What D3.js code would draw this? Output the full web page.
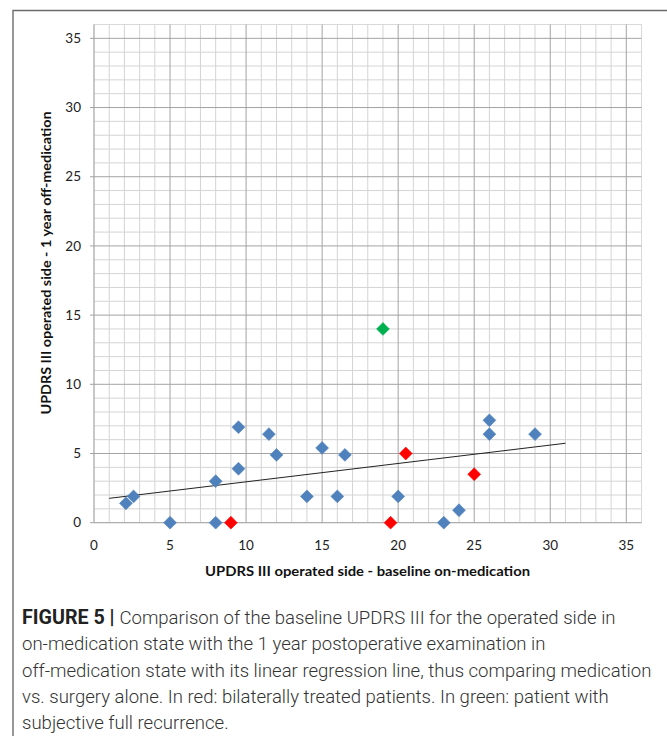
<!DOCTYPE html>
<html>
<head>
<meta charset="utf-8">
<script src="https://cdn.jsdelivr.net/npm/d3@7.9.0/dist/d3.min.js"></script>
<style>
  body { margin: 0; background: #fff; }
  svg { display: block; }
</style>
</head>
<body>
<svg id="chart" width="667" height="736"></svg>
<script>
// values
const blueX = [2.1, 2.6, 5, 8, 8, 9.5, 9.5, 11.5, 12, 14, 15, 16, 16.5, 20, 23, 24, 26, 26, 29];
const blueY = [1.4, 1.9, 0, 3, 0, 6.9, 3.9, 6.4, 4.9, 1.9, 5.4, 1.9, 4.9, 1.9, 0, 0.9, 7.4, 6.4, 6.4];
const redX = [9, 19.5, 20.5, 25];
const redY = [0, 0, 5, 3.5];
const greenX = [19];
const greenY = [14];
const trendX = [1, 31];
const trendY = [1.76, 5.74];
const tickValues = [0, 5, 10, 15, 20, 25, 30, 35];
const captionLines = [
  "Comparison of the baseline UPDRS III for the operated side in",
  "on-medication state with the 1 year postoperative examination in",
  "off-medication state with its linear regression line, thus comparing medication",
  "vs. surgery alone. In red: bilaterally treated patients. In green: patient with",
  "subjective full recurrence."
];

const svg = d3.select('#chart');

// outer figure frame (top + left)
svg.append('path')
  .attr('d', 'M13,736 V10.5 H667')
  .attr('fill', 'none')
  .attr('stroke', '#6b6b6b')
  .attr('stroke-width', 1.4);

const plot = { left: 94, top: 24.5, right: 641.5, bottom: 522.7 };
const x = d3.scaleLinear().domain([0, 36]).range([plot.left, plot.right]);
const y = d3.scaleLinear().domain([0, 36]).range([plot.bottom, plot.top]);

const g = svg.append('g');

// minor grid
const minor = d3.range(1, 36).filter(v => v % 5 !== 0);
g.selectAll('.vminor').data(minor).join('line')
  .attr('x1', d => x(d)).attr('x2', d => x(d))
  .attr('y1', plot.top).attr('y2', plot.bottom)
  .attr('stroke', '#d4d4d4').attr('stroke-width', 1);
g.selectAll('.hminor').data(minor).join('line')
  .attr('y1', d => y(d)).attr('y2', d => y(d))
  .attr('x1', plot.left).attr('x2', plot.right)
  .attr('stroke', '#d4d4d4').attr('stroke-width', 1);

// plot border
g.append('rect')
  .attr('x', plot.left).attr('y', plot.top)
  .attr('width', plot.right - plot.left).attr('height', plot.bottom - plot.top)
  .attr('fill', 'none').attr('stroke', '#d9d9d9');

// major grid
const major = tickValues.filter(v => v > 0);
g.selectAll('.vmajor').data(major).join('line')
  .attr('x1', d => x(d)).attr('x2', d => x(d))
  .attr('y1', plot.top).attr('y2', plot.bottom)
  .attr('stroke', '#a3a3a3').attr('stroke-width', 1);
g.selectAll('.hmajor').data(major).join('line')
  .attr('y1', d => y(d)).attr('y2', d => y(d))
  .attr('x1', plot.left - 4).attr('x2', plot.right)
  .attr('stroke', '#a3a3a3').attr('stroke-width', 1);

// axes lines
g.append('line')
  .attr('x1', plot.left).attr('x2', plot.left)
  .attr('y1', plot.top).attr('y2', plot.bottom)
  .attr('stroke', '#a3a3a3');
g.append('line')
  .attr('x1', plot.left - 4).attr('x2', plot.right)
  .attr('y1', plot.bottom).attr('y2', plot.bottom)
  .attr('stroke', '#a3a3a3');

// tick labels
g.selectAll('.xt').data(tickValues).join('text')
  .attr('x', d => x(d)).attr('y', 550)
  .attr('text-anchor', 'middle')
  .attr('font-family', 'Lato, "Open Sans", sans-serif')
  .attr('font-size', 13.5).attr('fill', '#222')
  .text(d => d);
g.selectAll('.yt').data(tickValues).join('text')
  .attr('x', 81).attr('y', d => y(d))
  .attr('dy', '0.35em')
  .attr('text-anchor', 'end')
  .attr('font-family', 'Lato, "Open Sans", sans-serif')
  .attr('font-size', 13.5).attr('fill', '#222')
  .text(d => d);

// axis titles
g.append('text')
  .attr('x', 367.5).attr('y', 576)
  .attr('text-anchor', 'middle')
  .attr('font-family', 'Lato, "Open Sans", sans-serif')
  .attr('font-weight', 'bold').attr('font-size', 13.5)
  .attr('textLength', 325).attr('lengthAdjust', 'spacingAndGlyphs')
  .attr('fill', '#111')
  .text('UPDRS III operated side - baseline on-medication');
g.append('text')
  .attr('transform', 'translate(50.5,263) rotate(-90)')
  .attr('text-anchor', 'middle')
  .attr('font-family', 'Lato, "Open Sans", sans-serif')
  .attr('font-weight', 'bold').attr('font-size', 13.5)
  .attr('textLength', 303).attr('lengthAdjust', 'spacingAndGlyphs')
  .attr('fill', '#111')
  .text('UPDRS III operated side - 1 year off-medication');

// regression line
g.append('line')
  .attr('x1', x(trendX[0])).attr('y1', y(trendY[0]))
  .attr('x2', x(trendX[1])).attr('y2', y(trendY[1]))
  .attr('stroke', '#222').attr('stroke-width', 1);

// markers
const diamond = d3.symbol().type(d3.symbolSquare).size(82)();
function drawSeries(xs, ys, color) {
  g.append('g').selectAll('path')
    .data(xs.map((v, i) => [v, ys[i]]))
    .join('path')
    .attr('d', diamond)
    .attr('transform', d => `translate(${x(d[0])},${y(d[1])}) rotate(45)`)
    .attr('fill', color)
    .attr('stroke', color).attr('stroke-width', 0.6);
}
drawSeries(blueX, blueY, '#4f81bd');
drawSeries(redX, redY, '#ff0000');
drawSeries(greenX, greenY, '#00b050');

// caption
const cap = svg.append('g')
  .attr('font-family', 'Roboto, "Liberation Sans", sans-serif')
  .attr('font-weight', 300)
  .attr('fill', '#333');
const capTexts = cap.selectAll('text').data(captionLines).join('text')
  .attr('x', 22)
  .attr('y', (d, i) => 624 + i * 26.3)
  .attr('font-size', 17);
capTexts.each(function (d, i) {
  const t = d3.select(this);
  if (i === 0) {
    t.append('tspan').attr('font-weight', 'bold').attr('fill', '#222')
      .attr('font-size', '1.06em').text('FIGURE 5 | ');
  }
  t.append('tspan').text(d);
});
// scale caption font so the longest line spans like the figure
const w = capTexts.nodes()[2].getComputedTextLength();
const fs = 17 * 630 / w;
capTexts.attr('font-size', fs);
</script>
</body>
</html>
